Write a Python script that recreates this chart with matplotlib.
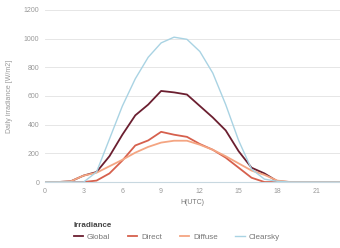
import numpy as np
import matplotlib
matplotlib.use('Agg')
import matplotlib.pyplot as plt

hours = list(range(24))
global_irr = [0, 0, 5, 45, 70, 180, 330, 465, 540, 635, 625, 610, 530, 450, 360, 215, 100, 60, 5, 0, 0, 0, 0, 0]
direct = [0, 0, 0, 0, 10, 60, 150, 255, 290, 350, 330, 315, 265, 225, 170, 100, 30, 0, 0, 0, 0, 0, 0, 0]
diffuse = [0, 0, 5, 45, 65, 110, 155, 205, 245, 275, 288, 288, 260, 225, 180, 130, 80, 50, 10, 0, 0, 0, 0, 0]
clearsky = [0, 0, 0, 0, 70, 300, 530, 720, 870, 970, 1010, 995, 910, 760, 540, 290, 90, 20, 5, 0, 0, 0, 0, 0]

plt.rcParams['font.family'] = ['Liberation Sans', 'DejaVu Sans']
fig = plt.figure(figsize=(3.4, 2.48), dpi=100)
ax = fig.add_axes([0.132, 0.266, 0.868, 0.694])

ax.plot(hours, global_irr, color='#6b1f30', lw=1.3, label='Global')
ax.plot(hours, direct, color='#d6604d', lw=1.3, label='Direct')
ax.plot(hours, diffuse, color='#f4a582', lw=1.3, label='Diffuse')
ax.plot(hours, clearsky, color='#a9d3e3', lw=1.0, label='Clearsky')

ax.set_xlim(0, 22.85)
ax.set_ylim(0, 1200)
ax.set_xticks(range(0, 22, 3))
ax.set_yticks(range(0, 1201, 200))
ax.grid(axis='y', color='#e6e6e6', lw=0.7)
ax.set_axisbelow(True)
for s in ['top', 'right', 'left']:
    ax.spines[s].set_visible(False)
ax.spines['bottom'].set_color('#c8d8e0')
ax.tick_params(length=0, labelsize=5, colors='#999999', pad=4)
ax.set_xlabel('H(UTC)', fontsize=5, color='#777777', labelpad=3)
ax.set_ylabel('Daily irradiance [W/m2]', fontsize=5, color='#999999', labelpad=8)

leg = fig.legend(loc='lower left', bbox_to_anchor=(0.195, 0.0), ncol=4, frameon=False,
                 title='Irradiance', fontsize=5.8, title_fontsize=5.8,
                 handlelength=1.2, handletextpad=0.45, columnspacing=2.2)
leg._legend_box.align = 'left'
leg.get_title().set_fontweight('bold')
leg.get_title().set_color('#444444')
for t in leg.get_texts():
    t.set_color('#777777')

fig.savefig('out.png', dpi=100)
